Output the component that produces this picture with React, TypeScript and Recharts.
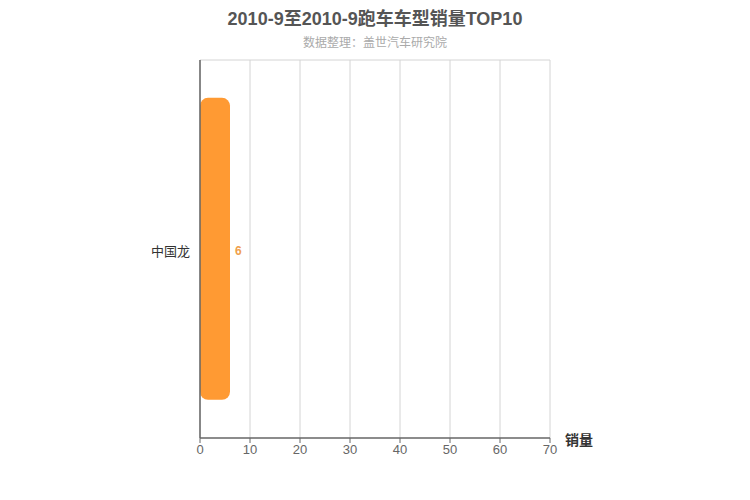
import { Bar, BarChart, XAxis, YAxis, CartesianGrid, LabelList } from "recharts"

const categories = ["中国龙"]
const sales = [6]
const xTicks = [0, 10, 20, 30, 40, 50, 60, 70]

const data = categories.map((name, i) => ({ name, value: sales[i] }))

const font = "'Liberation Sans', Arial, 'Noto Sans CJK SC', sans-serif"

export default function App() {
    return (
        <div style={{ position: "absolute", left: 0, top: 0, width: 750, height: 500, fontFamily: font, background: "#fff" }}>
            <div style={{ position: "absolute", top: 4, width: 750, textAlign: "center", fontSize: 18, fontWeight: "bold", color: "#555" }}>
                2010-9至2010-9跑车车型销量TOP10
            </div>
            <div style={{ position: "absolute", top: 33, width: 750, textAlign: "center", fontSize: 12, color: "#aaa" }}>
                数据整理：盖世汽车研究院
            </div>
            <div style={{ position: "absolute", left: 565, top: 429, fontSize: 14, fontWeight: "bold", color: "#333" }}>
                销量
            </div>
            <BarChart
                width={750}
                height={500}
                data={data}
                layout="vertical"
                margin={{ top: 60, right: 200, bottom: 32, left: 100 }}
                barCategoryGap="10%"
                style={{ fontFamily: font }}
            >
                <CartesianGrid
                    stroke="#d4d4d4"
                    horizontalCoordinatesGenerator={({ offset }: any) => [offset.top]}
                />
                <XAxis
                    type="number"
                    domain={[0, 70]}
                    ticks={xTicks}
                    height={30}
                    stroke="#666"
                    tick={{ fill: "#666", fontSize: 13 }}
                    tickSize={5}
                    axisLine={{ stroke: "#666", strokeWidth: 1.5 }}
                />
                <YAxis
                    type="category"
                    dataKey="name"
                    width={100}
                    tickLine={false}
                    axisLine={{ stroke: "#666", strokeWidth: 1.5 }}
                    tick={{ fill: "#333", fontSize: 13, dy: 2 }}
                    tickMargin={4}
                />
                <Bar dataKey="value" fill="#ff9a33" radius={[8, 8, 8, 8]} isAnimationActive={false}>
                    <LabelList dataKey="value" position="right" offset={5} dy={2} fill="#f0a04b" fontSize={12} fontWeight="bold" />
                </Bar>
            </BarChart>
        </div>
    )
}
